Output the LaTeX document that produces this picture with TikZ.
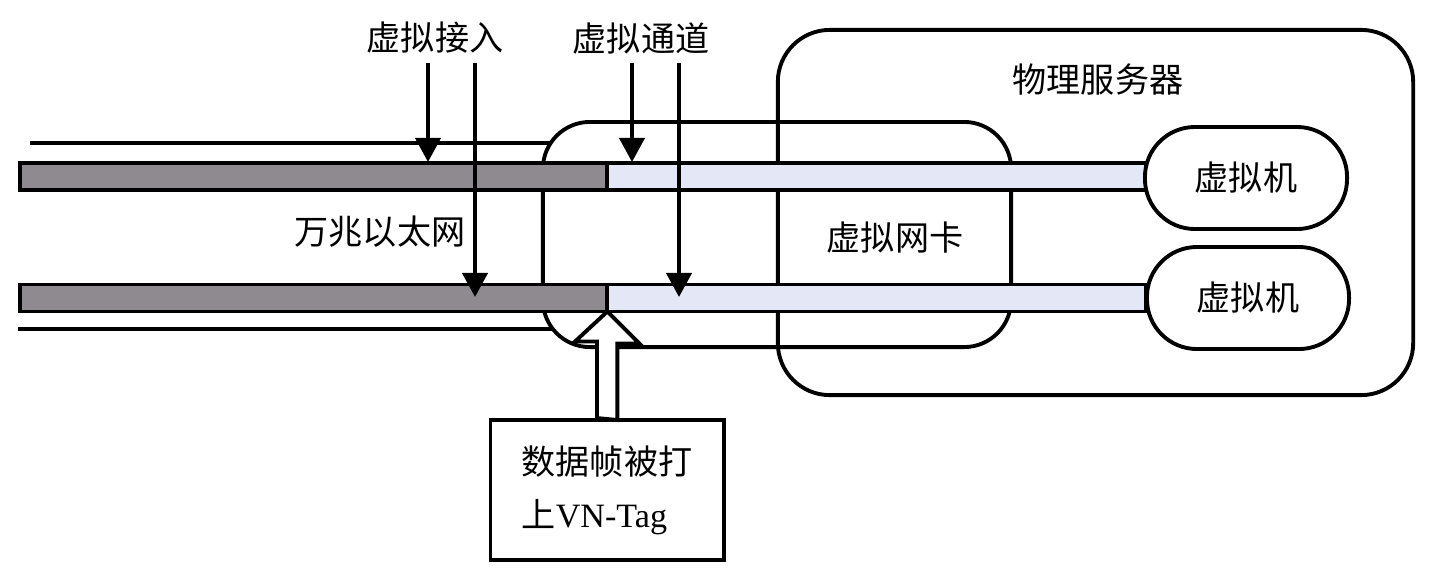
\documentclass[tikz,border=0pt]{standalone}
\usepackage{fontspec}
\setmainfont{Liberation Serif}
\newfontfamily\cjk{Noto Sans CJK SC}
\usetikzlibrary{arrows.meta, positioning, calc, backgrounds}
\definecolor{netgray}{RGB}{143,138,143}
\definecolor{chanblue}{RGB}{228,231,245}

\begin{document}
\begin{tikzpicture}[
  x=0.01cm, y=-0.01cm,
  line width=1.1pt,
  every node/.style={font=\cjk\fontsize{9.7pt}{15pt}\selectfont, inner sep=2pt},
  bar/.style={rectangle, draw, inner sep=0pt, outer sep=0pt, minimum height=0.27cm},
  netbar/.style={bar, fill=netgray, anchor=west, minimum width=5.87cm},
  chanbar/.style={bar, fill=chanblue, minimum width=5.38cm},
  vmbox/.style={rectangle, draw, fill=white, rounded corners=0.5cm,
                minimum width=2.02cm, minimum height=1.02cm},
  arr/.style={-{Triangle[length=0.24cm, width=0.25cm]}},
  hollow/.style={fill=white, line join=miter},
  ethline/.style={line width=1.1pt},
]
\useasboundingbox (0,0) rectangle (1430,578);

% virtual nic and physical server
\node[draw, fill=white, rounded corners=0.47cm, minimum width=4.68cm,
      minimum height=2.25cm] (nic) at (777,234.5) {};
\node[draw, rounded corners=0.52cm, minimum width=6.35cm,
      minimum height=3.65cm] (server) at (1095.5,212.5) {};
\node (srvlbl) at (1098,80) {物理服务器};
\node (niclbl) at (895,238) {虚拟网卡};

% ethernet lines
\coordinate (ethtop) at (30,143);
\coordinate (ethbot) at (18,329);
\begin{scope}[on background layer]
  \draw[ethline] (ethtop) -- (ethtop -| nic.center);
  \draw[ethline] (ethbot) -- (ethbot -| nic.center);
\end{scope}

% bars
\node[netbar] (net1) at (20,176.5) {};
\node[chanbar, right=0pt of net1] (chan1) {};
\node[netbar] (net2) at (20,298) {};
\node[chanbar, right=0pt of net2] (chan2) {};
\node (ethlbl) at (380,232) {万兆以太网};

% virtual machines
\node[vmbox] (vm1) at (1246,178) {虚拟机};
\node[vmbox] (vm2) at (1248,298) {虚拟机};

% access and channel arrows
\node (acclbl) at (435,38) {虚拟接入};
\node (chnlbl) at (641,38) {虚拟通道};
\coordinate (acc1) at (428,162);
\coordinate (acc2) at (475,297);
\coordinate (chn1) at (632,162);
\coordinate (chn2) at (679,297);
\draw[arr] (acclbl.south -| acc1) -- (acc1);
\draw[arr] (acclbl.south -| acc2) -- (acc2);
\draw[arr] (chnlbl.south -| chn1) -- (chn1);
\draw[arr] (chnlbl.south -| chn2) -- (chn2);

% tagging
\node[draw, minimum width=2.33cm, minimum height=1.40cm, align=left]
  (tag) at (607,490) {数据帧被打\\上{\rmfamily VN-Tag}};
\draw[hollow] ($(tag.north)+(-10,0)$) -- ++(0,-76.5) -- ++(-22,0)
  -- (net2.south east) -- ++(32,32) -- ++(-22,0) -- ++(0,76.5) -- cycle;
\end{tikzpicture}
\end{document}
